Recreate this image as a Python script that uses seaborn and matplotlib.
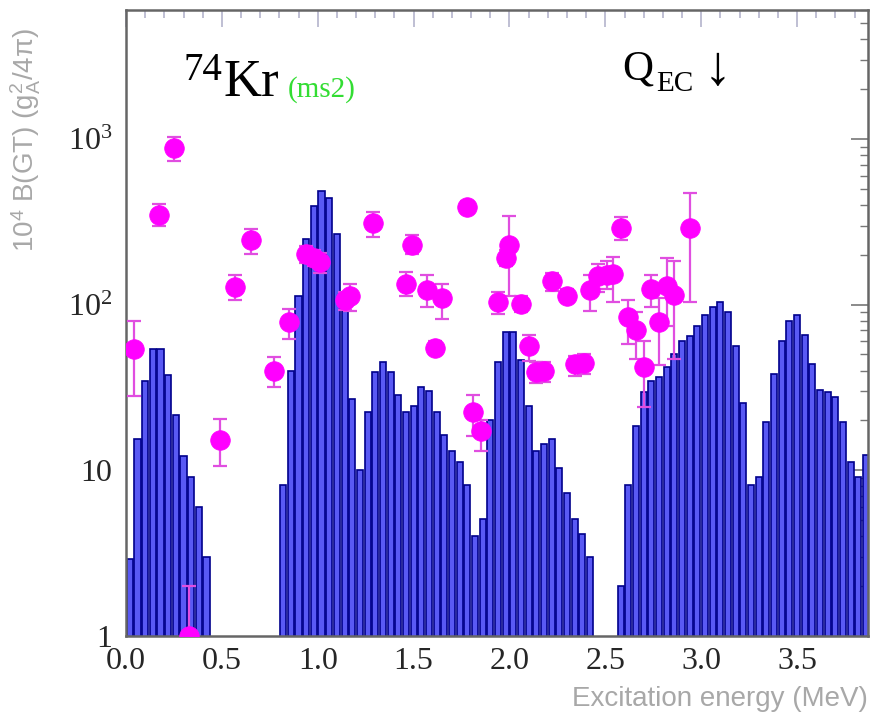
import numpy as np
import pandas as pd
import matplotlib
matplotlib.use("Agg")
import matplotlib.pyplot as plt
import seaborn as sns
from matplotlib.ticker import MultipleLocator, LogLocator, NullFormatter, FormatStrFormatter

# --------------------------------------------------
# data: B(GT) strength histogram, 40 keV bins
# --------------------------------------------------
bin_width = 0.04

low_start = 0.00
low_bgt = [2.9, 15.4, 34.6, 54, 54, 37.7, 21.5, 12.2, 9.1, 6.0, 3.0]

mid_start = 0.80
mid_bgt = [8.2, 40, 113, 250, 395, 484, 437, 265, 91, 27,
           10, 22.5, 39, 45, 39, 28.5, 22.5, 24.5, 32, 30,
           22.5, 16.3, 13, 11.2, 8.1, 4.0, 5.1, 20, 45, 68,
           68, 46, 24.5, 13, 14.4, 15.4, 10.3, 7.3, 5.1, 4.1,
           3.0]

high_start = 2.56
high_bgt = [2.0, 8.2, 18.5, 29.7, 34.6, 36.6, 42, 50.5, 60, 65,
            74.5, 87, 97, 104, 90, 56, 25.5, 8.2, 9.1, 19.5,
            38, 60.5, 80, 86, 66, 44, 30.5, 29.7, 27.7, 19.5,
            11.2, 9.1, 12.3]

# discrete levels with asymmetric errors
level_e = [0.04, 0.17, 0.25, 0.33, 0.49, 0.57, 0.65, 0.77, 0.85, 0.94,
           0.98, 1.01, 1.14, 1.17, 1.29, 1.46, 1.49, 1.57, 1.61, 1.65,
           1.78, 1.81, 1.85, 1.94, 1.98, 2.00, 2.06, 2.10, 2.14, 2.18,
           2.22, 2.30, 2.34, 2.39, 2.42, 2.46, 2.51, 2.54, 2.58, 2.62,
           2.66, 2.70, 2.74, 2.78, 2.82, 2.86, 2.94]
level_bgt = [54, 346, 880, 1.0, 15.2, 127, 245, 40, 79, 201,
             190, 182, 106, 113, 310, 134, 230, 122, 55, 109,
             387, 22.5, 17.2, 104, 190, 228, 101, 56, 39, 40,
             138, 113, 44, 44.5, 122, 148, 150, 153, 289, 84,
             70, 42, 125, 78, 130, 115, 290]
level_lo = [28, 300, 735, 0.5, 10.6, 106, 201, 31.8, 62, 178,
            170, 155, 93, 92, 256, 113, 203, 97, 50, 82,
            355, 16, 13, 88, 170, 112, 90, 45.7, 33.5, 34,
            121, 103, 37, 38, 92, 120, 125, 104, 244, 58,
            47, 24, 97, 43, 74, 47, 104]
level_hi = [80, 404, 1023, 2.0, 20.3, 151, 288, 48.5, 94.5, 225,
            213, 205, 120, 134, 362, 158, 262, 150, 60, 134,
            420, 28.5, 20, 119, 215, 341, 112, 65.5, 45, 45,
            155, 125, 49, 50, 150, 176, 184, 195, 338, 107,
            90, 60.7, 150, 110, 190, 183, 470]

# --------------------------------------------------
# build tables
# --------------------------------------------------
rows = []
for start, vals in [(low_start, low_bgt), (mid_start, mid_bgt), (high_start, high_bgt)]:
    for i, v in enumerate(vals):
        rows.append({"E": round(start + (i + 0.5) * bin_width, 3), "B": v})
hist_df = pd.DataFrame(rows)

lev_df = pd.DataFrame({"E": level_e, "B": level_bgt, "lo": level_lo, "hi": level_hi})

# --------------------------------------------------
# style
# --------------------------------------------------
sns.set_style("white")
plt.rcParams["font.family"] = ["Liberation Serif", "DejaVu Serif"]
plt.rcParams["mathtext.fontset"] = "custom"
plt.rcParams["mathtext.rm"] = "Liberation Serif"
plt.rcParams["mathtext.it"] = "Liberation Serif:italic"
plt.rcParams["mathtext.sf"] = "Liberation Sans"

W, H = 873, 716
fig = plt.figure(figsize=(W / 100, H / 100), dpi=100)
ax = fig.add_axes([126 / W, 1 - 636 / H, (868 - 126) / W, (636 - 10) / H])


def px(x, y):
    return x / W, 1 - y / H


sns.histplot(data=hist_df, x="E", weights="B", binwidth=bin_width,
             binrange=(0.0, 3.88), shrink=0.8,
             color="#5959f4", edgecolor="#00008b", linewidth=1.2,
             alpha=1.0, ax=ax)

ax.errorbar(lev_df["E"], lev_df["B"],
            yerr=[lev_df["B"] - lev_df["lo"], lev_df["hi"] - lev_df["B"]],
            fmt="none", ecolor="#e04ee0", elinewidth=1.6, capsize=5,
            capthick=1.6, zorder=3)
sns.scatterplot(data=lev_df, x="E", y="B", s=200, color="#ff00ff",
                edgecolor="#ff00ff", linewidth=0.5, zorder=4, ax=ax)

ax.set_yscale("log")
ax.set_xlim(0, 3.87)
ax.set_ylim(1, 6000)
ax.set_xlabel("")
ax.set_ylabel("")

ax.xaxis.set_major_locator(MultipleLocator(0.5))
ax.xaxis.set_minor_locator(MultipleLocator(0.1))
ax.xaxis.set_major_formatter(FormatStrFormatter("%.1f"))
ax.set_yticks([1, 10, 100, 1000], ["1", "10", r"$10^{2}$", r"$10^{3}$"])
ax.yaxis.set_minor_locator(LogLocator(base=10, subs=np.arange(2, 10)))
ax.yaxis.set_minor_formatter(NullFormatter())

ax.tick_params(which="both", direction="in", top=True, right=True)
ax.tick_params(axis="x", which="major", length=12, width=1.2, color="#b4b4cc",
               labelsize=23, pad=8)
ax.tick_params(axis="x", which="minor", length=6, width=1.2, color="#b4b4cc")
ax.tick_params(axis="y", which="major", length=12, width=1.2, color="#777777",
               labelsize=23, pad=10)
ax.tick_params(axis="y", which="minor", length=6, width=1.0, color="#777777")

for s in ax.spines.values():
    s.set_color("#666666")
    s.set_linewidth(1.8)

# --------------------------------------------------
# texts
# --------------------------------------------------
fig.text(*px(26, 28), "10$^{\\mathsf{4}}$ B(GT) (g$_{\\mathsf{A}}^{\\mathsf{2}}$/4π)",
         rotation=90, ha="center", va="top", fontsize=20,
         family="Liberation Sans", color="#a8a8a8")
fig.text(*px(868, 706), "Excitation energy (MeV)", ha="right", va="baseline",
         fontsize=20, family="Liberation Sans", color="#a8a8a8")

fig.text(*px(184, 80), "74", fontsize=28, ha="left", va="baseline", color="black")
fig.text(*px(224, 96), "Kr", fontsize=38, ha="left", va="baseline", color="black")
fig.text(*px(288, 97), "(ms2)", fontsize=21, ha="left", va="baseline", color="#33dd33")

fig.text(*px(622, 79), "Q", fontsize=31, ha="left", va="baseline", color="black")
fig.text(*px(656, 91), "EC", fontsize=21, ha="left", va="baseline", color="black")
fig.text(*px(704, 84), "↓", fontsize=40, ha="left", va="baseline", color="black")

fig.savefig("out.png", dpi=100)
